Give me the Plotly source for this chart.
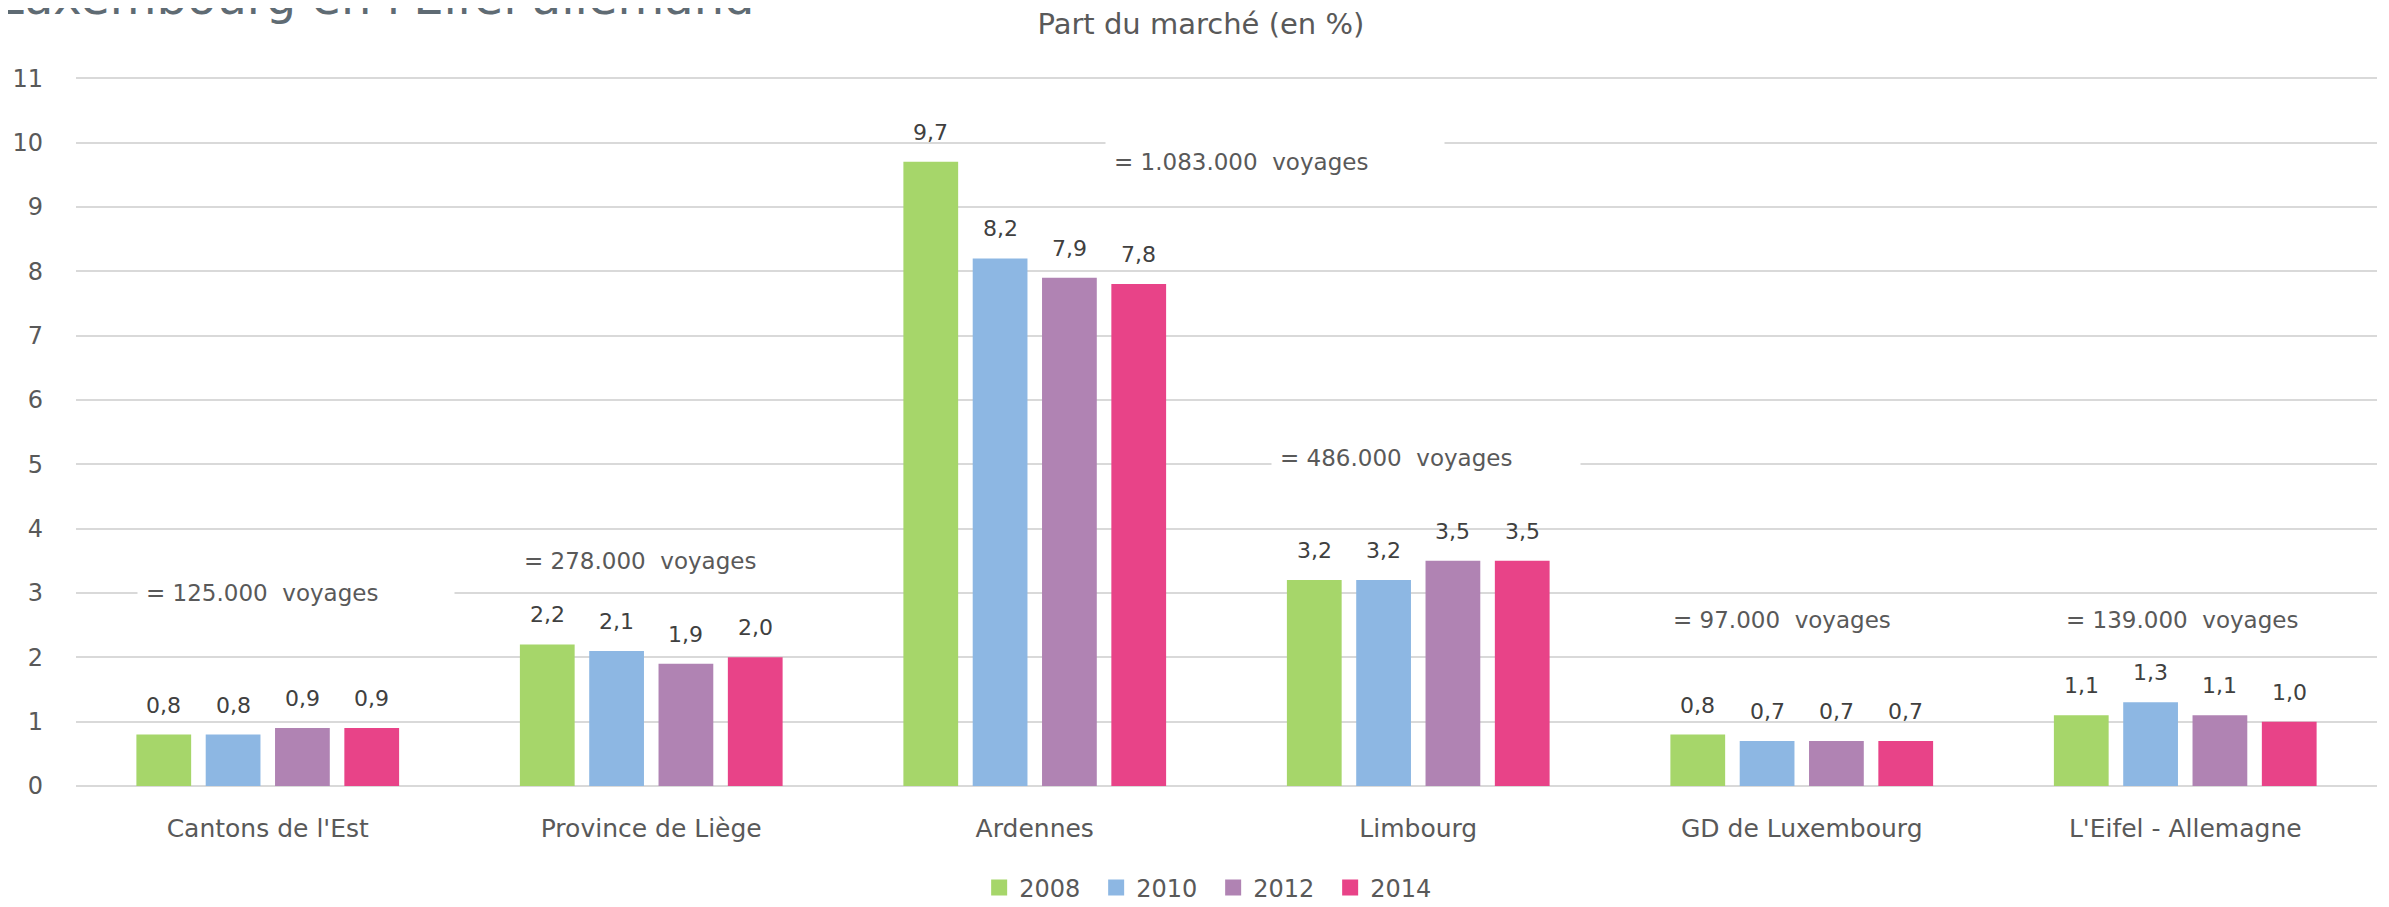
import plotly.graph_objects as go

# categories and series
regions = ["Cantons de l'Est", "Province de Liège", "Ardennes", "Limbourg",
           "GD de Luxembourg", "L'Eifel - Allemagne"]
years = ["2008", "2010", "2012", "2014"]
share_2008 = [0.8, 2.2, 9.7, 3.2, 0.8, 1.1]
share_2010 = [0.8, 2.1, 8.2, 3.2, 0.7, 1.3]
share_2012 = [0.9, 1.9, 7.9, 3.5, 0.7, 1.1]
share_2014 = [0.9, 2.0, 7.8, 3.5, 0.7, 1.0]
voyages = ["= 125.000  voyages", "= 278.000  voyages", "= 1.083.000  voyages",
           "= 486.000  voyages", "= 97.000  voyages", "= 139.000  voyages"]

series = [share_2008, share_2010, share_2012, share_2014]
colors = ["#A6D66A", "#8DB7E3", "#B083B3", "#E84388"]

FONT = "DejaVu Sans"
GREY = "#595959"

# page body adds an 8px margin, so the figure is 8px smaller each way
W, H = 2381, 899

fig = go.Figure()

for yr, vals, col in zip(years, series, colors):
    fig.add_trace(go.Bar(
        x=regions, y=vals, name=yr,
        marker=dict(color=col, line=dict(width=0)),
        showlegend=False,
    ))
    # legend entry with a bigger square
    fig.add_trace(go.Scatter(
        x=[None], y=[None], name=yr, mode="markers",
        marker=dict(symbol="square", size=16, color=col),
    ))

# data labels above each bar (comma decimals)
slot = 69.3
annotations = []
for i, vals in enumerate(series):
    for reg, v in zip(regions, vals):
        annotations.append(dict(
            x=reg, y=v, xref="x", yref="y",
            text=f"{v:.1f}".replace(".", ","),
            showarrow=False, xshift=(i - 1.5) * slot,
            yanchor="bottom", yshift=15,
            font=dict(family=FONT, size=22, color="#404040"),
        ))

# "= ... voyages" boxes: (y level, x shift of box left, box width)
voy_pos = [(3.0, -131, 300), (3.5, -136, 250), (9.7, 70, 322),
           (5.1, -147, 292), (2.58, -138, 240), (2.58, -128, 240)]
for reg, txt, (yv, xs, w) in zip(regions, voyages, voy_pos):
    annotations.append(dict(
        x=reg, y=yv, xref="x", yref="y", text=txt, showarrow=False,
        xanchor="left", xshift=xs, align="left", width=w,
        bgcolor="white", borderpad=8,
        font=dict(family=FONT, size=23, color=GREY),
    ))

# cut-off heading at the very top
annotations.append(dict(
    x=-0.035, y=1.068, xref="paper", yref="paper", xanchor="left",
    yanchor="bottom", showarrow=False,
    text="Luxembourg en l'Eifel allemand",
    font=dict(family=FONT, size=48, color="#5F6B73"),
))

fig.update_layout(
    width=W, height=H,
    margin=dict(l=68, r=12, t=67, b=121),
    paper_bgcolor="white", plot_bgcolor="white",
    barmode="group", bargap=0.277, bargroupgap=0.21,
    font=dict(family=FONT, color=GREY),
    title=dict(text="Part du marché (en %)", x=0.501, xanchor="center",
               y=1 - 16 / H, yanchor="middle",
               font=dict(family=FONT, size=29, color=GREY)),
    xaxis=dict(showgrid=False, showline=False, ticks="", automargin=False,
               tickfont=dict(family=FONT, size=25, color=GREY),
               ticklabelstandoff=25),
    yaxis=dict(range=[0, 11.05], tickvals=list(range(12)), showgrid=True,
               gridcolor="#D9D9D9", gridwidth=2, zeroline=True,
               zerolinecolor="#D9D9D9", zerolinewidth=2, showline=False,
               ticks="", automargin=False,
               tickfont=dict(family=FONT, size=24, color=GREY),
               ticklabelstandoff=32),
    legend=dict(orientation="h", x=0.4942, xanchor="center",
                yref="container", y=1 - 880 / H, yanchor="middle",
                font=dict(family=FONT, size=24, color=GREY),
                entrywidth=72, entrywidthmode="pixels"),
    annotations=annotations,
)

fig.write_html("out.html")
